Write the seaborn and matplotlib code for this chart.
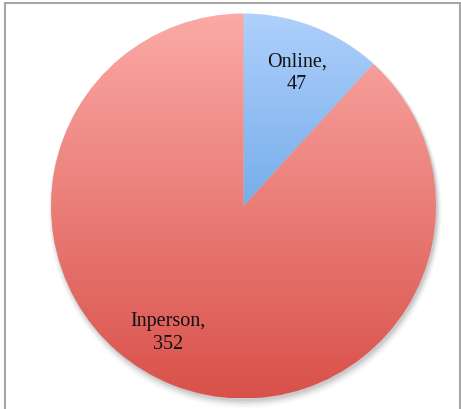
import numpy as np
import seaborn as sns
import matplotlib.pyplot as plt
from matplotlib.colors import LinearSegmentedColormap
from matplotlib.patches import Rectangle, Circle

# Data
labels = ['Online', 'Inperson']
values = [47, 352]

# top -> bottom gradient colours for each slice
grad_top = ['#aed0fc', '#fbaaa6']
grad_bot = ['#3f8ad8', '#d9514a']

sns.set_theme(style='white')
plt.rcParams['font.family'] = ['Liberation Serif', 'DejaVu Serif']

W, H = 461, 409
fig = plt.figure(figsize=(W / 100, H / 100), dpi=100)
ax = fig.add_axes([0, 0, 1, 1])

cx, cy, R = 243.5, H - 206, 192.5

# soft shadow under the pie
for i, a in enumerate(np.linspace(0.10, 0.02, 6)):
    ax.add_patch(Circle((cx + 1.5, cy - 2.5 - i * 0.6), R + i * 0.9,
                        color='#000000', alpha=a * 0.6, lw=0, zorder=0))

wedges, _ = ax.pie(values, startangle=90, counterclock=False,
                   center=(cx, cy), radius=R, frame=True,
                   wedgeprops=dict(linewidth=0))

grad = np.linspace(0, 1, 256).reshape(-1, 1)
for w, c0, c1 in zip(wedges, grad_top, grad_bot):
    w.set_facecolor('none')
    cmap = LinearSegmentedColormap.from_list('g', [c0, c1])
    im = ax.imshow(grad, cmap=cmap, aspect='auto', origin='upper',
                   extent=(cx - R, cx + R, cy - R, cy + R), zorder=1,
                   interpolation='bilinear')
    im.set_clip_path(w)

# labels placed inside slices
label_pos = [(297, 73), (168, 333)]
for lab, v, (px, py) in zip(labels, values, label_pos):
    ax.text(px, H - py, f'{lab},\n{v}', ha='center', va='center',
            fontsize=14.5, color='#111111', linespacing=1.25, zorder=3)

# outer frame
ax.add_patch(Rectangle((4.5, -10), 455, H - 2.5 + 10, fill=False,
                       edgecolor='#a6a6a6', lw=1.5, zorder=4))

ax.set_xlim(0, W)
ax.set_ylim(0, H)
ax.set_aspect('auto')
ax.axis('off')

fig.savefig('out.png', dpi=100)
